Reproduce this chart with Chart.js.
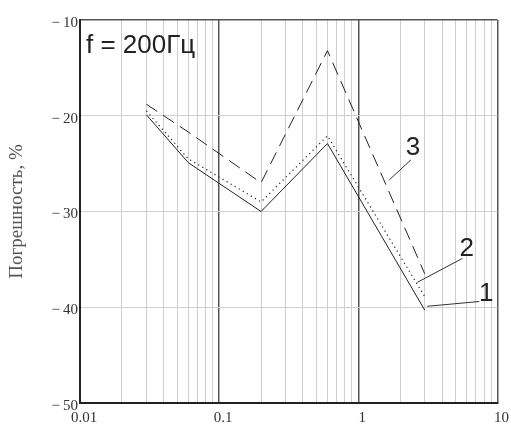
<!DOCTYPE html>
<html>
<head>
<meta charset="utf-8">
<script src="https://cdn.jsdelivr.net/npm/chart.js"></script>
<style>
  body { margin: 0; background: #fff; }
  #wrap { width: 511px; height: 424px; }
</style>
</head>
<body>
<div id="wrap"><canvas id="errChart" width="511" height="424"></canvas></div>
<script>
// частота, отн. единицы
const freqs = [0.03, 0.06, 0.2, 0.6, 3];
const curve1 = [-19.9, -24.9, -30.0, -22.9, -40.3];
const curve2 = [-19.5, -24.5, -29.0, -22.1, -38.9];
const curve3 = [-18.8, -21.7, -27.0, -13.2, -36.5];

// выноски к кривым: [x, y] начала и конца
const leader1 = [[3.13, -39.9], [7.4, -39.4]];
const leader2 = [[2.65, -37.4], [5.6, -34.9]];
const leader3 = [[1.67, -26.7], [2.39, -24.6]];
const curveLabels = [
  { text: '1', x: 8.3, y: -38.6 },
  { text: '2', x: 6.0, y: -33.9 },
  { text: '3', x: 2.47, y: -23.4 },
];

const xTicks = [];
[0.01, 0.1, 1].forEach(d => { for (let k = 1; k < 10; k++) xTicks.push(+(d * k).toPrecision(2)); });
xTicks.push(10);
const xLabels = [0.01, 0.1, 1, 10];
const yTicks = [-50, -40, -30, -20, -10];

const serif = '"Liberation Serif", "Times New Roman", serif';
const toPts = (xs, ys) => xs.map((x, i) => ({ x: x, y: ys[i] }));
const leaderSet = pts => ({
  data: pts.map(p => ({ x: p[0], y: p[1] })),
  borderColor: '#333',
  borderWidth: 1,
  pointRadius: 0,
  fill: false,
});

// подписи: f = 200Гц и номера кривых
const textPlugin = {
  id: 'texts',
  afterDatasetsDraw(chart) {
    const { ctx, chartArea, scales } = chart;
    ctx.save();
    ctx.fillStyle = '#222';
    ctx.font = '26px "Liberation Sans", Arial, sans-serif';
    ctx.textBaseline = 'alphabetic';
    ctx.textAlign = 'left';
    ctx.fillText('f = 200Гц', chartArea.left + 6, chartArea.top + 33);
    ctx.textAlign = 'center';
    ctx.textBaseline = 'middle';
    curveLabels.forEach(l => {
      ctx.fillText(l.text, scales.x.getPixelForValue(l.x), scales.y.getPixelForValue(l.y));
    });
    ctx.restore();
  }
};

const ctx = document.getElementById('errChart').getContext('2d');
new Chart(ctx, {
  type: 'line',
  data: {
    datasets: [
      {
        data: toPts(freqs, curve1),
        borderColor: '#222',
        borderWidth: 1,
        pointRadius: 0,
        fill: false,
      },
      {
        data: toPts(freqs, curve2),
        borderColor: '#222',
        borderWidth: 1.2,
        borderDash: [1.2, 3.5],
        pointRadius: 0,
        fill: false,
      },
      {
        data: toPts(freqs, curve3),
        borderColor: '#222',
        borderWidth: 1,
        borderDash: [13, 7],
        pointRadius: 0,
        fill: false,
      },
      leaderSet(leader1),
      leaderSet(leader2),
      leaderSet(leader3),
    ],
  },
  plugins: [textPlugin],
  options: {
    responsive: false,
    animation: false,
    layout: { padding: { top: 20, right: 13, left: 0, bottom: 0 } },
    plugins: {
      legend: { display: false },
      tooltip: { enabled: false },
    },
    scales: {
      x: {
        type: 'logarithmic',
        min: 0.01,
        max: 10,
        afterBuildTicks: s => { s.ticks = xTicks.map(v => ({ value: v })); },
        afterFit: s => { s.height = 21; },
        border: { color: '#222', width: 2 },
        grid: {
          drawTicks: false,
          color: c => {
            const v = c.tick ? c.tick.value : 0;
            return xLabels.includes(v) ? '#555' : '#cfcfcf';
          },
          lineWidth: c => (c.tick && xLabels.includes(c.tick.value) ? 1.5 : 1),
        },
        ticks: {
          autoSkip: false,
          maxRotation: 0,
          padding: 6,
          labelOffset: 4,
          color: '#333',
          font: { family: serif, size: 15 },
          callback: v => (xLabels.includes(v) ? String(v) : ''),
        },
      },
      y: {
        min: -50,
        max: -10,
        afterBuildTicks: s => { s.ticks = yTicks.map(v => ({ value: v })); },
        afterFit: s => { s.width = 80; },
        border: { color: '#222', width: 2 },
        grid: {
          drawTicks: false,
          color: c => (c.tick && c.tick.value === -10 ? '#555' : '#cfcfcf'),
          lineWidth: c => (c.tick && c.tick.value === -10 ? 1.5 : 1),
        },
        ticks: {
          padding: 2,
          labelOffset: 3,
          color: '#333',
          font: { family: serif, size: 15 },
          callback: v => '\u2212\u2009' + Math.abs(v),
        },
        title: {
          display: true,
          text: 'Погрешность, %',
          color: '#555',
          padding: { top: 6, bottom: 0 },
          font: { family: serif, size: 19, weight: 'normal' },
        },
      },
    },
  },
});
</script>
</body>
</html>
